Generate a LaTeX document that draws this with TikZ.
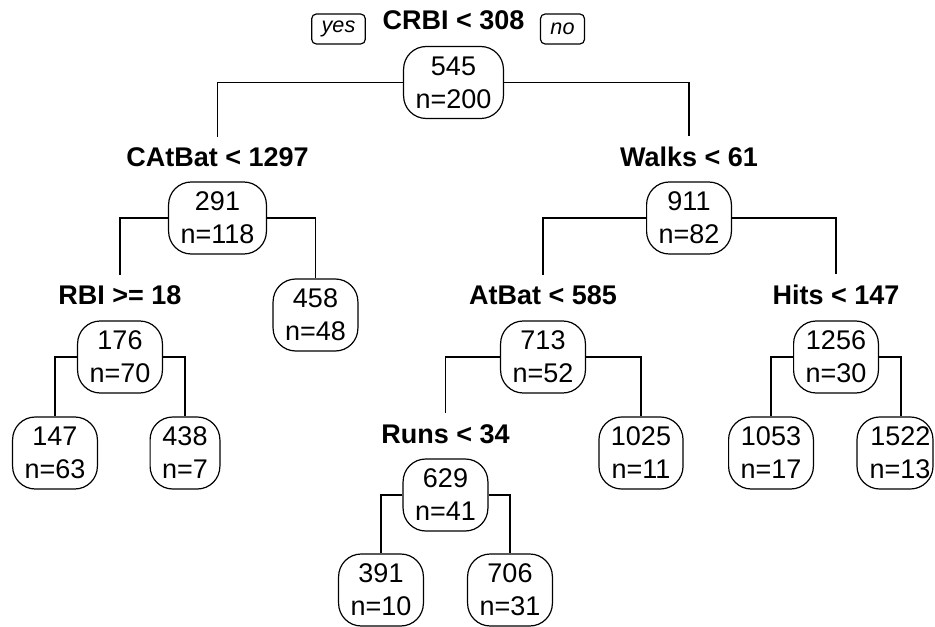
\documentclass[tikz,border=0pt]{standalone}
\usepackage{fontspec}
\setmainfont{Liberation Sans}
\begin{document}
\begin{tikzpicture}[x=0.75pt,y=-0.75pt,
  tn/.style={draw, line width=0.9pt, rounded corners=17pt, align=center,
    font=\fontsize{20.25}{24.75}\selectfont, inner xsep=9pt, inner ysep=0pt,
    minimum height=54pt},
  lbl/.style={font=\fontsize{20.25}{24.75}\selectfont\bfseries, anchor=base,
    inner xsep=0pt, inner ysep=8.5pt},
  yn/.style={draw, line width=0.9pt, rounded corners=3.5pt,
    font=\fontsize{16.2}{19}\selectfont\itshape, inner xsep=7.5pt, inner ysep=0pt,
    minimum height=22.5pt},
  edge/.style={line width=0.9pt}]
\useasboundingbox (0,0) rectangle (935,627);

% split labels
\node[lbl] (l1) at (453.5,30) {CRBI < 308};
\node[yn] (yes) at (338.5,29) {yes};
\node[yn] (no) at (562.5,29) {no};
\node[lbl] (l2) at (217.5,167) {CAtBat < 1297};
\node[lbl] (l3) at (689,167) {Walks < 61};
\node[lbl] (l4) at (120,305) {RBI >= 18};
\node[lbl] (l7) at (543,305) {AtBat < 585};
\node[lbl] (l8) at (836,305) {Hits < 147};
\node[lbl] (l10) at (445.5,443) {Runs < 34};

% nodes
\node[tn] (root) at (453.5,82.5) {545\\n=200};
\node[tn] (n291) at (217.5,218) {291\\n=118};
\node[tn] (n911) at (689,218) {911\\n=82};
\node[tn] (n176) at (120,357) {176\\n=70};
\node[tn] (n458) at (315.5,315) {458\\n=48};
\node[tn] (n713) at (543,357) {713\\n=52};
\node[tn] (n1256) at (836,357) {1256\\n=30};
\node[tn] (n147) at (55,453) {147\\n=63};
\node[tn] (n438) at (185,453) {438\\n=7};
\node[tn] (n629) at (445.5,495) {629\\n=41};
\node[tn] (n1025) at (641,453) {1025\\n=11};
\node[tn] (n1053) at (771,453) {1053\\n=17};
\node[tn, inner xsep=2pt, text width=53pt, align=right] (n1522) at (895,453) {1522\\n=13};
\node[tn] (n391) at (381,590) {391\\n=10};
\node[tn] (n706) at (510,590) {706\\n=31};

% connectors
\draw[edge] (root.west) -| (l2.north);
\draw[edge] (root.east) -| (l3.north);
\draw[edge] (n291.west) -| (l4.north);
\draw[edge] (n291.east) -| (n458.north);
\draw[edge] (n911.west) -| (l7.north);
\draw[edge] (n911.east) -| (l8.north);
\draw[edge] (n176.west) -| (n147.north);
\draw[edge] (n176.east) -| (n438.north);
\draw[edge] (n713.west) -| (l10.north);
\draw[edge] (n713.east) -| (n1025.north);
\draw[edge] (n1256.west) -| (n1053.north);
\draw[edge] (n1256.east) -| ([xshift=4.5pt]n1522.north);
\draw[edge] (n629.west) -| (n391.north);
\draw[edge] (n629.east) -| (n706.north);
\end{tikzpicture}
\end{document}
